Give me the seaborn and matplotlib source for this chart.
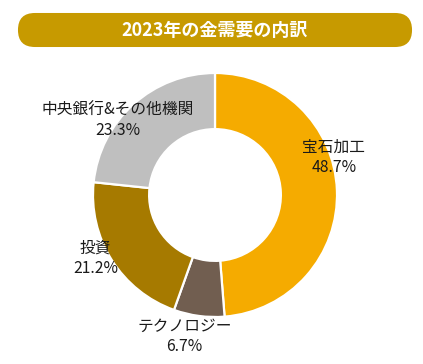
import matplotlib
matplotlib.use("Agg")
import matplotlib.pyplot as plt
import seaborn as sns
from matplotlib.patches import FancyBboxPatch

# data
categories = ["宝石加工", "テクノロジー", "投資", "中央銀行&その他機関"]
shares = [48.7, 6.7, 21.2, 23.3]
colors = ["#F5AB00", "#715E50", "#A67A00", "#BFBFBF"]
title = "2023年の金需要の内訳"

# label centres in units of the outer radius
label_pos = [(0.975, 0.31), (-0.25, -1.16), (-0.98, -0.52), (-0.80, 0.61)]

sns.set_theme(style="white")
plt.rcParams["font.family"] = ["Noto Sans CJK JP", "DejaVu Sans"]

fig = plt.figure(figsize=(4.23, 3.64), dpi=100)
ax = fig.add_axes([0, 0, 1, 1])

ax.pie(shares, colors=colors, startangle=90, counterclock=False, radius=1.0,
       wedgeprops=dict(width=0.46, edgecolor="white", linewidth=1.6))

for name, val, (x, y) in zip(categories, shares, label_pos):
    ax.text(x, y, f"{name}\n{val:.1f}%", ha="center", va="center",
            fontsize=11.3, color="#1a1a1a", linespacing=1.25)

# rounded title bar
bar = FancyBboxPatch((-1.615, 1.213), 3.23, 0.279,
                     boxstyle="round,pad=0,rounding_size=0.139",
                     facecolor="#C79A00", edgecolor="none")
ax.add_patch(bar)
ax.text(0, 1.352, title, ha="center", va="center", fontsize=13,
        fontweight="bold", color="white")

# 1 unit = 122 px, donut centre at (215, 195) px from top-left
ax.set_xlim(-215 / 122, (423 - 215) / 122)
ax.set_ylim(-(364 - 195) / 122, 195 / 122)
ax.set_aspect("auto")
ax.axis("off")

fig.savefig("out.png", dpi=100)
